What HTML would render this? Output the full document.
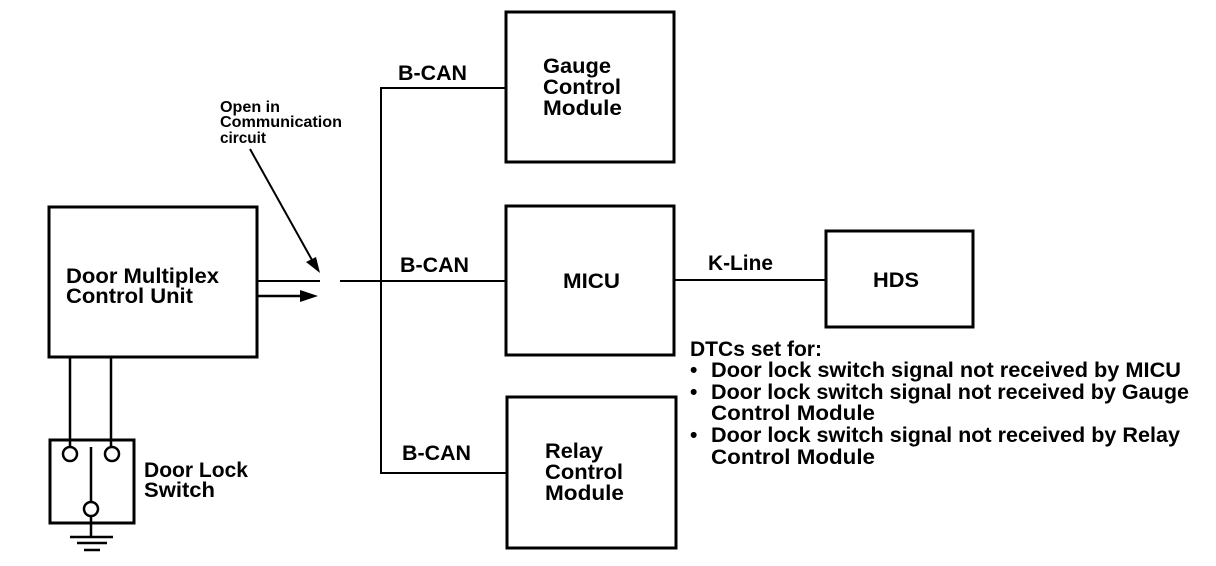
<!DOCTYPE html>
<html><head><meta charset="utf-8"><style>
html,body{margin:0;padding:0;background:#fff;}
svg{display:block;}
text{font-family:"Liberation Sans",Arial,sans-serif;font-weight:bold;fill:#000;}
</style></head><body>
<svg width="1216" height="566" viewBox="0 0 1216 566" xmlns="http://www.w3.org/2000/svg">
<g fill="none" stroke="#000">
<rect x="49" y="207" width="208" height="150" stroke-width="3"/>
<rect x="506" y="12" width="168" height="150" stroke-width="3"/>
<rect x="506" y="206" width="168" height="149" stroke-width="3"/>
<rect x="507" y="397" width="169" height="151" stroke-width="3"/>
<rect x="826" y="231" width="147" height="96" stroke-width="3"/>
<rect x="50" y="440" width="84" height="83" stroke-width="3"/>
<polyline points="505,88 381,88 381,473 507,473" stroke-width="2"/>
<line x1="340" y1="281" x2="506" y2="281" stroke-width="2"/>
<line x1="257" y1="281" x2="320" y2="281" stroke-width="2"/>
<line x1="257" y1="296" x2="300" y2="296" stroke-width="2.5"/>
<line x1="674" y1="280" x2="826" y2="280" stroke-width="2"/>
<line x1="250" y1="149" x2="312" y2="260" stroke-width="2"/>
<line x1="70" y1="357" x2="70" y2="446" stroke-width="2.5"/>
<line x1="111" y1="357" x2="111" y2="446" stroke-width="2.5"/>
<circle cx="70" cy="454" r="7" stroke-width="2.5" fill="#fff"/>
<circle cx="112" cy="454" r="7" stroke-width="2.5" fill="#fff"/>
<line x1="91" y1="447" x2="91" y2="502" stroke-width="2.5"/>
<circle cx="91" cy="509" r="7" stroke-width="2.5" fill="#fff"/>
<line x1="91" y1="516" x2="91" y2="537" stroke-width="2.5"/>
<line x1="70" y1="537" x2="113" y2="537" stroke-width="2.5"/>
<line x1="77" y1="543" x2="107" y2="543" stroke-width="2.5"/>
<line x1="84" y1="550" x2="100" y2="550" stroke-width="2.5"/>
</g>
<polygon points="300,290 318,296 300,302" fill="#000"/>
<polygon points="320,273 306,262 316,257" fill="#000"/>
<g font-size="16" lengthAdjust="spacingAndGlyphs">
<text x="220" y="112" textLength="60" lengthAdjust="spacingAndGlyphs">Open in</text>
<text x="220" y="127" textLength="122" lengthAdjust="spacingAndGlyphs">Communication</text>
<text x="220" y="143" textLength="46" lengthAdjust="spacingAndGlyphs">circuit</text>
</g>
<g font-size="21">
<text x="66" y="283" textLength="153" lengthAdjust="spacingAndGlyphs">Door Multiplex</text>
<text x="66" y="303" textLength="127" lengthAdjust="spacingAndGlyphs">Control Unit</text>
<text x="144" y="477" textLength="104" lengthAdjust="spacingAndGlyphs">Door Lock</text>
<text x="144" y="497" textLength="71" lengthAdjust="spacingAndGlyphs">Switch</text>
<text x="398" y="80" textLength="69" lengthAdjust="spacingAndGlyphs">B-CAN</text>
<text x="400" y="272" textLength="69" lengthAdjust="spacingAndGlyphs">B-CAN</text>
<text x="402" y="460" textLength="69" lengthAdjust="spacingAndGlyphs">B-CAN</text>
<text x="543" y="73" textLength="68" lengthAdjust="spacingAndGlyphs">Gauge</text>
<text x="543" y="94" textLength="78" lengthAdjust="spacingAndGlyphs">Control</text>
<text x="543" y="115" textLength="79" lengthAdjust="spacingAndGlyphs">Module</text>
<text x="563" y="288" textLength="57" lengthAdjust="spacingAndGlyphs">MICU</text>
<text x="545" y="458" textLength="58" lengthAdjust="spacingAndGlyphs">Relay</text>
<text x="545" y="479" textLength="78" lengthAdjust="spacingAndGlyphs">Control</text>
<text x="545" y="500" textLength="79" lengthAdjust="spacingAndGlyphs">Module</text>
<text x="708" y="270" textLength="65" lengthAdjust="spacingAndGlyphs">K-Line</text>
<text x="873" y="287" textLength="46" lengthAdjust="spacingAndGlyphs">HDS</text>
<text x="690" y="356" textLength="132" lengthAdjust="spacingAndGlyphs">DTCs set for:</text>
<text x="690" y="377">•</text>
<text x="711" y="377" textLength="470" lengthAdjust="spacingAndGlyphs">Door lock switch signal not received by MICU</text>
<text x="690" y="399">•</text>
<text x="711" y="399" textLength="478" lengthAdjust="spacingAndGlyphs">Door lock switch signal not received by Gauge</text>
<text x="711" y="420" textLength="164" lengthAdjust="spacingAndGlyphs">Control Module</text>
<text x="690" y="442">•</text>
<text x="711" y="442" textLength="469" lengthAdjust="spacingAndGlyphs">Door lock switch signal not received by Relay</text>
<text x="711" y="464" textLength="164" lengthAdjust="spacingAndGlyphs">Control Module</text>
</g>
</svg>
</body></html>
